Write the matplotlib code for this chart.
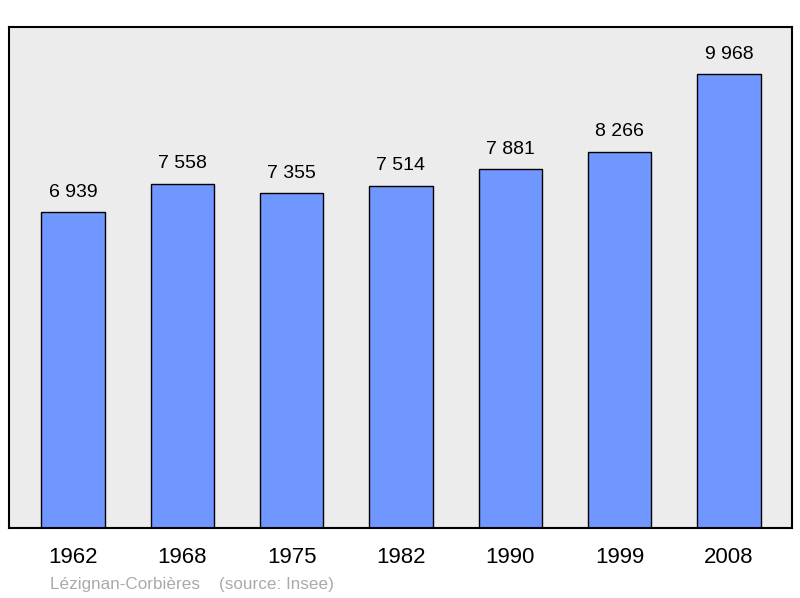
import matplotlib.pyplot as plt

years = ['1962', '1968', '1975', '1982', '1990', '1999', '2008']
population = [6939, 7558, 7355, 7514, 7881, 8266, 9968]
labels = ['6 939', '7 558', '7 355', '7 514', '7 881', '8 266', '9 968']

fig = plt.figure(figsize=(8, 5.98), dpi=100)
ax = fig.add_axes([9/800, 1-528/598, 783/800, 501/598])
ax.set_facecolor('#ececec')

x = range(len(years))
ax.bar(x, population, width=0.58, color='#7097ff', edgecolor='black', linewidth=1)
for i, v in enumerate(population):
    ax.text(i, v + 250, labels[i], ha='center', va='bottom', fontsize=14,
            family='Liberation Sans')

ax.set_xlim(-0.585, 6.576)
ax.set_ylim(0, 11000)
ax.set_yticks([])
ax.set_xticks(list(x))
ax.set_xticklabels(years, fontsize=16, family='Liberation Sans')
ax.tick_params(axis='x', length=0, pad=14)
for s in ax.spines.values():
    s.set_linewidth(1.5)

fig.text(50/800, 1-584/598, 'Lézignan-Corbières    (source: Insee)', color='#aaaaaa',
         fontsize=12.3, family='Liberation Sans', va='center')

fig.savefig('out.png')
